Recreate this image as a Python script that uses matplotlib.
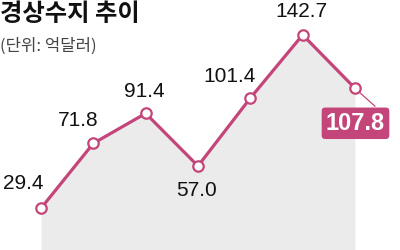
import matplotlib
matplotlib.use("Agg")
import matplotlib.pyplot as plt
from matplotlib import font_manager as fm

names = {f.name for f in fm.fontManager.ttflist}
num_font = "Liberation Sans Narrow" if "Liberation Sans Narrow" in names else "Liberation Sans"
kr_font = ["Noto Sans CJK KR", "DejaVu Sans"]

# data
periods = ["P1", "P2", "P3", "P4", "P5", "P6", "P7"]
values = [29.4, 71.8, 91.4, 57.0, 101.4, 142.7, 107.8]
labels = ["29.4", "71.8", "91.4", "57.0", "101.4", "142.7", "107.8"]
title = "경상수지 추이"
subtitle = "(단위: 억달러)"

pink = "#c4457a"
fill_gray = "#ebebeb"

fig = plt.figure(figsize=(4, 2.5), dpi=100)
ax = fig.add_axes([0, 0, 1, 1])
ax.set_axis_off()
x = list(range(len(values)))
ax.set_xlim(-0.7835, 6.860)
ybot, ytop = 2.1, 165.5
ax.set_ylim(ybot, ytop)

ax.fill_between(x, values, ybot - 5, color=fill_gray, lw=0, zorder=1)
ax.plot(x, values, color=pink, lw=2.3, zorder=3, solid_capstyle="round")
ax.plot(x, values, ls="none", marker="o", ms=7.5, mfc="white", mec=pink,
        mew=1.6, zorder=4)

# label offsets in pixels (dx, dy)
offsets = [(-18, 25), (-15.5, 22.5), (-1.5, 21.5), (-1, -24.5),
           (-21, 22), (-1.3, 23.5), (0.5, -35)]
for i, (v, lab, (dx, dy)) in enumerate(zip(values, labels, offsets)):
    if i == len(values) - 1:
        # callout tail
        ax.annotate("", xy=(i, v), xytext=(20, -18), textcoords="offset pixels",
                    arrowprops=dict(arrowstyle="-", color=pink, lw=0.9,
                                    shrinkA=0, shrinkB=5), zorder=2)
        ax.annotate(lab, xy=(i, v), xytext=(dx, dy), textcoords="offset pixels",
                    ha="center", va="center", color="white", fontsize=17,
                    fontweight="bold", family=num_font, zorder=6,
                    bbox=dict(boxstyle="round,pad=0.18,rounding_size=0.15",
                              fc=pink, ec="none"))
    else:
        ax.annotate(lab, xy=(i, v), xytext=(dx, dy), textcoords="offset pixels",
                    ha="center", va="center", color="#111111", fontsize=15,
                    family=num_font, zorder=5)

fig.text(0.0, 1 - 14 / 250, title, family=kr_font, fontsize=17.5,
         fontweight="heavy", color="#111111", ha="left", va="center")
fig.text(0.0, 1 - 46 / 250, subtitle, family=kr_font, fontsize=12,
         color="#444444", ha="left", va="center")

fig.savefig("out.png", dpi=100)
